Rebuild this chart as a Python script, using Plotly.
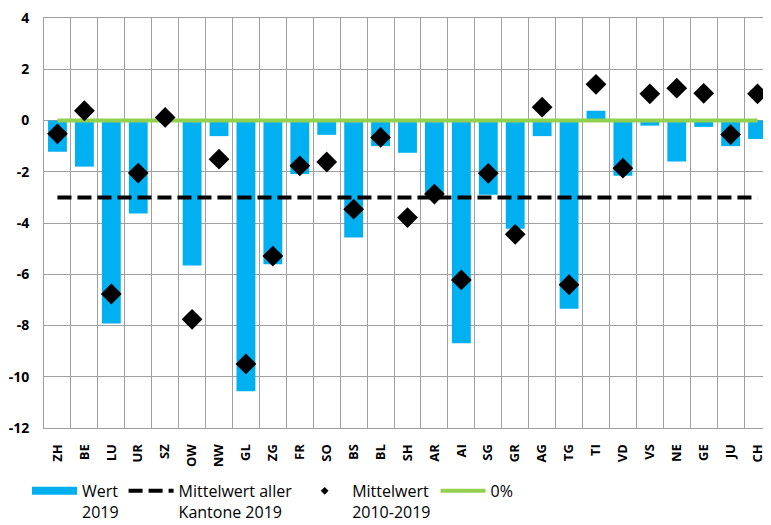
import plotly.graph_objects as go

kantone = ["ZH", "BE", "LU", "UR", "SZ", "OW", "NW", "GL", "ZG", "FR", "SO", "BS", "BL", "SH",
           "AR", "AI", "SG", "GR", "AG", "TG", "TI", "VD", "VS", "NE", "GE", "JU", "CH"]
wert_2019 = [-1.22, -1.8, -7.92, -3.63, 0.0, -5.66, -0.61, -10.57, -5.61, -2.09, -0.56, -4.57, -1.0, -1.26,
             -2.87, -8.69, -2.9, -4.22, -0.61, -7.35, 0.38, -2.16, -0.2, -1.6, -0.25, -1.0, -0.72]
mittel_2010_2019 = [-0.52, 0.38, -6.77, -2.05, 0.12, -7.76, -1.51, -9.5, -5.29, -1.77, -1.62, -3.46, -0.66, -3.79,
                    -2.87, -6.22, -2.06, -4.44, 0.52, -6.41, 1.41, -1.86, 1.04, 1.26, 1.06, -0.55, 1.04]
mittel_kantone_2019 = -3.0
null_linie = 0.0
y_ticks = [4, 2, 0, -2, -4, -6, -8, -10, -12]
y_ticktext = ["4", "2", "0", "-2", "-4", "-6", "-8", "-10", "-12"]

BLAU = "#00B0F0"
GRUEN = "#92D050"
GRID = "#a0a0a0"
FONT = "Open Sans"
LEG_FONT = "Liberation Sans Narrow, Open Sans"

fig = go.Figure()
fig.add_trace(go.Bar(x=kantone, y=wert_2019, marker_color=BLAU, showlegend=False))
fig.add_trace(go.Scatter(x=[None], y=[None], mode="lines", name="Wert<br>2019",
                         line=dict(color=BLAU, width=8), legendrank=1))
fig.add_trace(go.Scatter(x=kantone, y=[mittel_kantone_2019] * len(kantone), mode="lines",
                         name="Mittelwert aller<br>Kantone 2019", legendrank=2,
                         line=dict(color="black", width=4, dash="14px,6px")))
fig.add_trace(go.Scatter(x=kantone, y=[null_linie] * len(kantone), mode="lines", name="0%",
                         line=dict(color=GRUEN, width=4), legendrank=4))
fig.add_trace(go.Scatter(x=kantone, y=mittel_2010_2019, mode="markers", showlegend=False,
                         marker=dict(symbol="diamond", size=16, color="black")))
fig.add_trace(go.Scatter(x=[None], y=[None], mode="markers", name="Mittelwert<br>2010-2019",
                         marker=dict(symbol="diamond", size=6, color="black"), legendrank=3))

# page body adds 8px around the plot, so the figure is 8px smaller than the window
fig.update_layout(
    template="none",
    width=763, height=517,
    margin=dict(l=36, r=0, t=10, b=97, autoexpand=False),
    plot_bgcolor="white", paper_bgcolor="white",
    bargap=0.3,
    font=dict(family=FONT, color="black"),
    legend=dict(orientation="h", x=-0.0234, xanchor="left", y=-0.112, yanchor="top",
                valign="top", itemwidth=45, font=dict(family=LEG_FONT, size=16)),
)
fig.update_xaxes(type="category", range=[-0.5, len(kantone) - 0.5], tickson="boundaries",
                 showgrid=True, gridcolor=GRID, gridwidth=1, ticks="outside", ticklen=0,
                 showline=True, mirror=True, linecolor=GRID,
                 tickangle=-90, ticklabelstandoff=10, automargin=False,
                 tickfont=dict(family=FONT, size=13, weight="bold"))
fig.update_yaxes(range=[-12, 4], tickvals=y_ticks, ticktext=y_ticktext, showgrid=True,
                 gridcolor=GRID, gridwidth=1, zeroline=False, showline=True, linecolor=GRID,
                 ticklabelstandoff=11, ticklabeloverflow="allow", automargin=False,
                 tickfont=dict(family=FONT, size=14, weight="bold"))

fig.write_html("out.html")
